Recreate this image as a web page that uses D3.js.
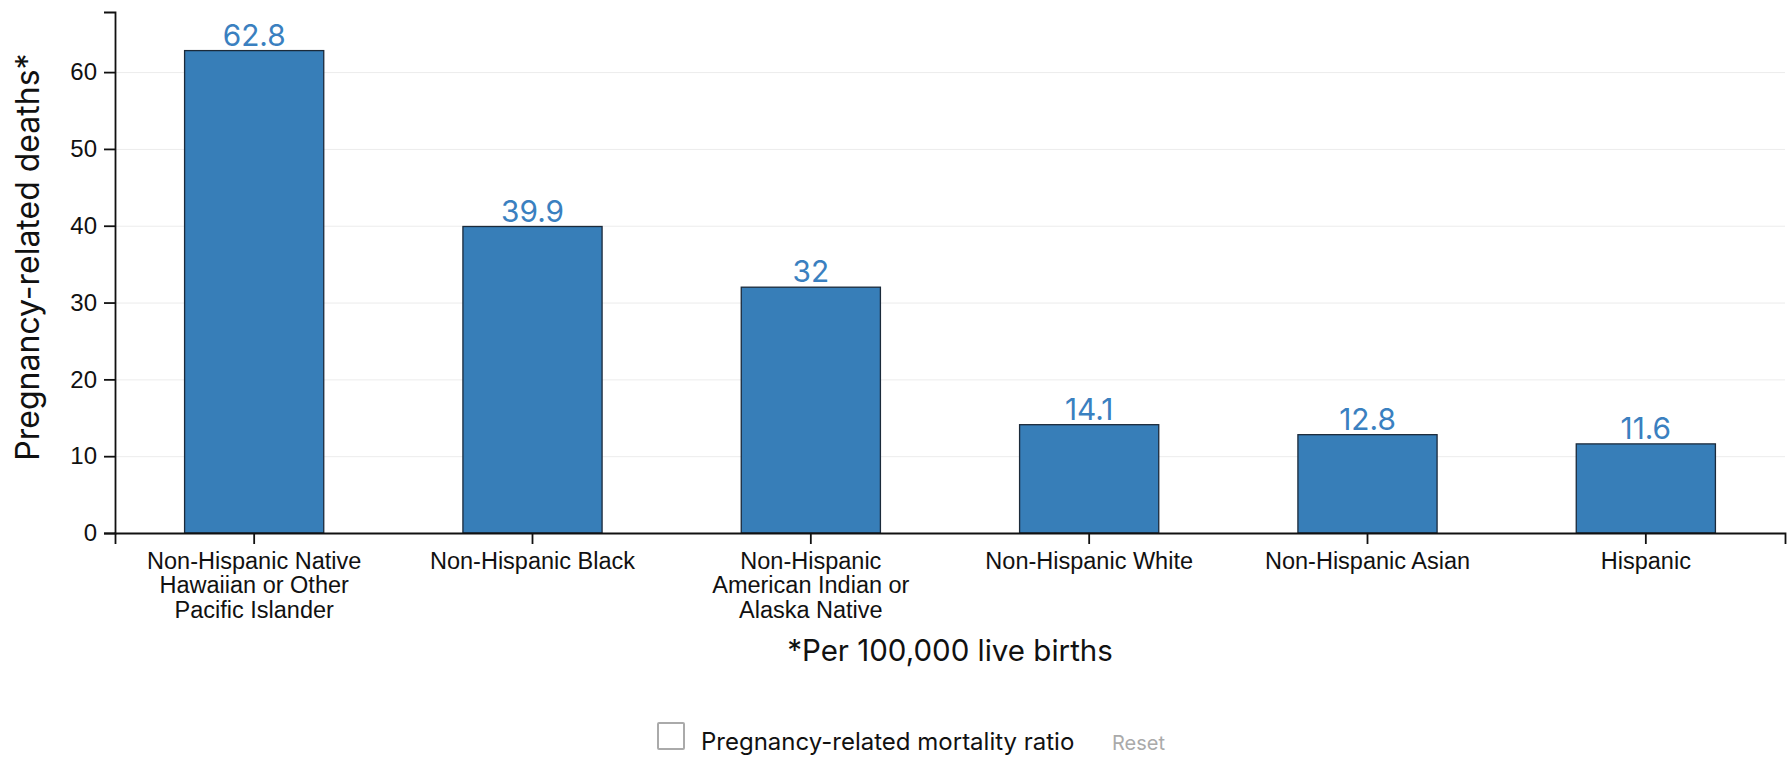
<!DOCTYPE html>
<html>
<head>
<meta charset="utf-8">
<script src="https://cdn.jsdelivr.net/npm/d3@7"></script>
<style>
    html, body { margin: 0; padding: 0; background: #fff; }
    body { font-family: Inter, "Noto Sans", sans-serif; }
    .grid line { stroke: #ececec; stroke-width: 1; }
    .grid .domain { display: none; }
    .axis text { fill: #111; }
    .axis path, .axis line { stroke: #111; stroke-width: 1.8; }
</style>
</head>
<body>
<div id="chart"></div>
<script>
// Values
const categories = [
    'Non-Hispanic Native Hawaiian or Other Pacific Islander',
    'Non-Hispanic Black',
    'Non-Hispanic American Indian or Alaska Native',
    'Non-Hispanic White',
    'Non-Hispanic Asian',
    'Hispanic'
];
const categoryLines = [
    ['Non-Hispanic Native', 'Hawaiian or Other', 'Pacific Islander'],
    ['Non-Hispanic Black'],
    ['Non-Hispanic', 'American Indian or', 'Alaska Native'],
    ['Non-Hispanic White'],
    ['Non-Hispanic Asian'],
    ['Hispanic']
];
const ratios = [62.8, 39.9, 32, 14.1, 12.8, 11.6];
const yTicks = [0, 10, 20, 30, 40, 50, 60];
const yTitle = 'Pregnancy-related deaths*';
const xTitle = '*Per 100,000 live births';
const legendLabel = 'Pregnancy-related mortality ratio';

const width = 1792;
const height = 757;
const margin = { top: 12, right: 7, bottom: 224, left: 115 };
const plotWidth = width - margin.left - margin.right;
const plotHeight = height - margin.top - margin.bottom;

const svg = d3.select('#chart').append('svg')
    .attr('width', width)
    .attr('height', height);

const plotArea = svg.append('g')
    .attr('transform', `translate(${margin.left},${margin.top})`);

const x = d3.scaleBand()
    .domain(categories)
    .range([0, plotWidth])
    .paddingInner(0.5)
    .paddingOuter(0.25);

// top of axis sits a little above the tallest bar
const y = d3.scaleLinear()
    .domain([0, d3.max(ratios) * 1.08])
    .range([plotHeight, 0]);

// Light horizontal gridlines
plotArea.append('g')
    .attr('class', 'grid')
    .call(d3.axisLeft(y).tickValues(yTicks.slice(1)).tickSize(-plotWidth).tickFormat(''));

// Bars
plotArea.selectAll('.bar')
    .data(ratios)
    .join('rect')
    .attr('class', 'bar')
    .attr('x', (d, i) => x(categories[i]))
    .attr('y', d => y(d))
    .attr('width', x.bandwidth())
    .attr('height', d => plotHeight - y(d))
    .attr('fill', '#377eb8')
    .attr('stroke', '#1b2a3a')
    .attr('stroke-width', 1.3);

// Value labels
plotArea.selectAll('.value-label')
    .data(ratios)
    .join('text')
    .attr('class', 'value-label')
    .attr('x', (d, i) => x(categories[i]) + x.bandwidth() / 2)
    .attr('y', d => y(d) - 5)
    .attr('text-anchor', 'middle')
    .attr('font-size', 29.8)
    .attr('fill', '#3a80c0')
    .text(d => d);

// Axes
const xAxis = plotArea.append('g')
    .attr('class', 'axis x-axis')
    .attr('transform', `translate(0,${plotHeight})`)
    .call(d3.axisBottom(x).tickSize(11).tickSizeOuter(11).tickFormat(''));

xAxis.selectAll('.tick').each(function(d) {
    const lines = categoryLines[categories.indexOf(d)];
    const t = d3.select(this).append('text')
        .attr('text-anchor', 'middle')
        .attr('font-size', 23.5)
        .attr('y', 35.5);
    lines.forEach((line, i) => {
        t.append('tspan')
            .attr('x', 0)
            .attr('dy', i === 0 ? 0 : 24.8)
            .text(line);
    });
});

plotArea.append('g')
    .attr('class', 'axis y-axis')
    .call(d3.axisLeft(y).tickValues(yTicks).tickSize(11).tickSizeOuter(11).tickPadding(7))
    .selectAll('text')
    .attr('font-size', 24);

// Axis titles
svg.append('text')
    .attr('text-anchor', 'middle')
    .attr('transform', 'rotate(-90)')
    .attr('x', -257)
    .attr('y', 39)
    .attr('font-size', 32)
    .attr('fill', '#111')
    .text(yTitle);

svg.append('text')
    .attr('text-anchor', 'middle')
    .attr('x', margin.left + plotWidth / 2)
    .attr('y', 661)
    .attr('font-size', 29.5)
    .attr('fill', '#111')
    .text(xTitle);

// Legend
const legend = svg.append('g')
    .attr('transform', 'translate(658,723)');

legend.append('rect')
    .attr('width', 26)
    .attr('height', 26)
    .attr('rx', 1)
    .attr('fill', '#fff')
    .attr('stroke', '#aaa')
    .attr('stroke-width', 2);

legend.append('text')
    .attr('x', 43)
    .attr('y', 27)
    .attr('font-size', 24)
    .attr('fill', '#111')
    .text(legendLabel);

legend.append('text')
    .attr('x', 454)
    .attr('y', 27)
    .attr('font-size', 20)
    .attr('fill', '#aaa')
    .text('Reset');
</script>
</body>
</html>
